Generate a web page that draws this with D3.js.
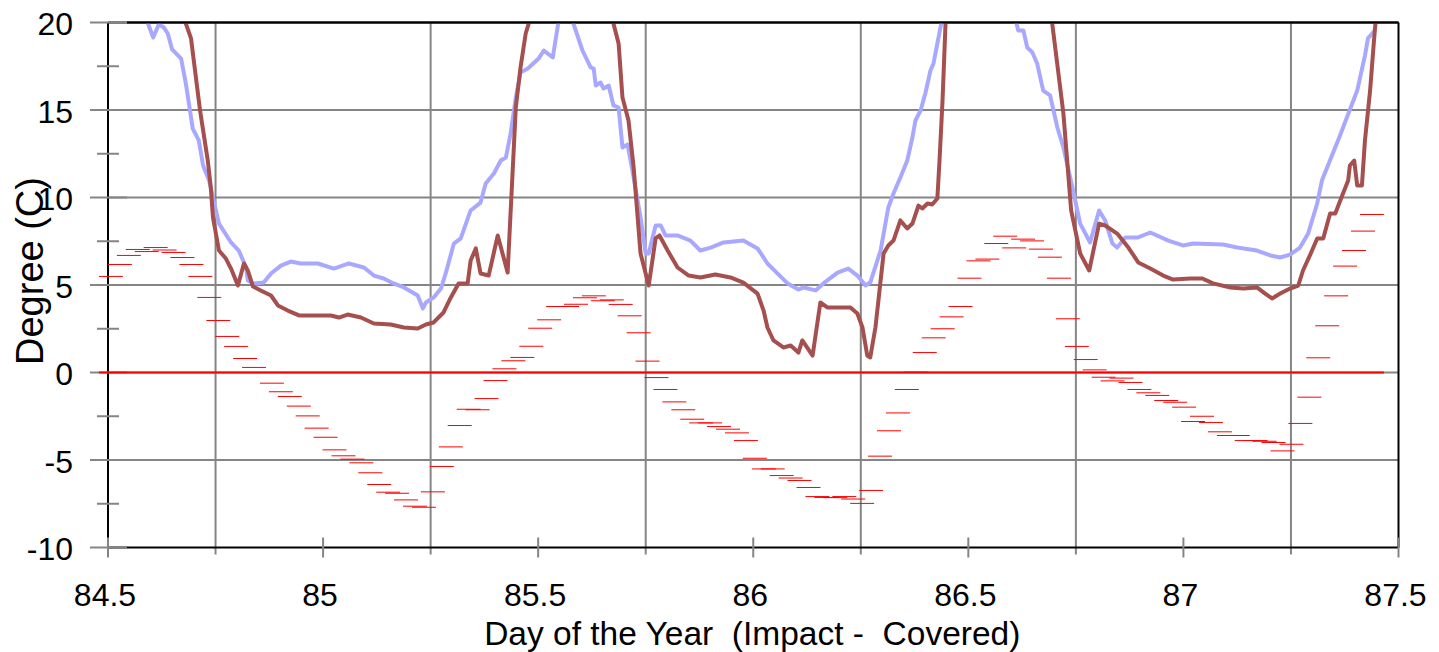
<!DOCTYPE html>
<html><head><meta charset="utf-8">
<script src="https://cdn.jsdelivr.net/npm/d3@7/dist/d3.min.js"></script>
<style>
html,body{margin:0;padding:0;background:#fff;}
svg{display:block;background:#fff;}
text{font-family:"Liberation Sans",Arial,sans-serif;fill:#000;}
</style></head><body>
<svg id="chart" width="1439" height="652"></svg>
<script>
// ---------- data ----------
const xDomain = [84.5, 87.5];
const yDomain = [-10, 20];
const xLabelTicks = [84.5, 85, 85.5, 86, 86.5, 87, 87.5];
const xGridTicks = [84.75, 85.25, 85.75, 86.25, 86.75, 87.25];
const yLabelTicks = [-10, -5, 0, 5, 10, 15, 20];
const yGridTicks = [-5, 0, 5, 10, 15];
const yMinorTicks = [-7.5, -2.5, 2.5, 7.5, 12.5, 17.5];
const xTitle = "Day of the Year  (Impact -  Covered)";
const yTitle = "Degree (C)";

// light blue series [day, degC]
const blueSeries = [
[84.585,20.6],[84.593,19.94],[84.605,19.14],[84.618,19.89],[84.630,19.71],[84.639,19.37],[84.649,18.46],
[84.670,17.94],[84.681,16.51],[84.697,13.94],[84.711,13.26],[84.721,11.83],[84.735,10.97],[84.758,8.51],
[84.786,7.43],[84.804,6.97],[84.821,6.00],[84.825,5.26],[84.839,5.09],[84.862,5.14],[84.879,5.66],
[84.902,6.11],[84.925,6.34],[84.948,6.23],[84.988,6.23],[85.025,5.94],[85.060,6.23],[85.095,6.00],
[85.118,5.54],[85.141,5.37],[85.164,5.09],[85.188,4.86],[85.220,4.40],[85.232,3.66],[85.239,4.00],
[85.257,4.29],[85.274,4.80],[85.285,5.66],[85.304,7.37],[85.320,7.66],[85.343,9.26],[85.366,9.71],
[85.378,10.80],[85.397,11.37],[85.413,12.11],[85.425,12.29],[85.436,13.66],[85.448,15.71],[85.459,17.14],
[85.476,17.37],[85.501,17.94],[85.513,18.40],[85.534,18.00],[85.545,19.71],[85.550,20.40],[85.564,21.6],
[85.578,20.40],[85.582,19.94],[85.603,18.40],[85.622,17.43],[85.629,17.37],[85.634,16.40],[85.645,16.57],
[85.652,16.23],[85.664,16.40],[85.675,15.26],[85.687,15.14],[85.696,12.86],[85.708,13.03],[85.722,11.14],
[85.738,8.86],[85.750,6.80],[85.757,6.80],[85.773,8.40],[85.785,8.40],[85.796,7.83],[85.824,7.83],
[85.854,7.54],[85.877,6.97],[85.901,7.14],[85.931,7.43],[85.977,7.54],[86.010,7.09],[86.033,6.23],
[86.056,5.66],[86.080,5.09],[86.105,4.74],[86.117,4.86],[86.145,4.69],[86.163,5.09],[86.196,5.71],
[86.221,5.94],[86.242,5.54],[86.261,4.97],[86.272,5.14],[86.296,6.97],[86.314,9.43],[86.326,10.23],
[86.342,11.14],[86.358,12.11],[86.370,13.43],[86.377,14.40],[86.389,14.97],[86.400,15.94],[86.412,17.26],
[86.419,17.66],[86.428,18.80],[86.437,19.94],[86.442,20.40],[86.52,24.0],
[86.607,20.40],[86.612,19.94],[86.616,19.54],[86.628,19.54],[86.637,18.57],[86.649,18.29],[86.660,17.66],
[86.674,16.11],[86.690,15.83],[86.707,14.00],[86.721,12.86],[86.742,10.57],[86.760,8.51],[86.783,7.43],
[86.804,9.26],[86.818,8.69],[86.835,7.37],[86.846,7.14],[86.865,7.71],[86.893,7.71],[86.923,8.00],
[86.965,7.54],[86.999,7.26],[87.023,7.37],[87.092,7.31],[87.125,7.14],[87.171,6.97],[87.202,6.69],
[87.225,6.57],[87.248,6.74],[87.271,7.14],[87.290,7.94],[87.311,9.66],[87.322,10.97],[87.364,13.54],
[87.404,16.11],[87.422,18.11],[87.429,19.09],[87.445,19.54]
];

// dark red series [day, degC]
const redSeries = [
[84.679,20.40],[84.681,19.94],[84.693,19.09],[84.714,14.97],[84.732,12.11],[84.739,10.57],[84.744,8.86],
[84.758,6.97],[84.774,6.51],[84.786,5.94],[84.802,4.97],[84.816,6.23],[84.825,5.83],[84.837,4.91],
[84.855,4.69],[84.879,4.40],[84.895,3.83],[84.918,3.54],[84.944,3.26],[84.967,3.26],[85.018,3.26],
[85.037,3.14],[85.057,3.31],[85.088,3.14],[85.118,2.80],[85.157,2.74],[85.188,2.57],[85.220,2.51],
[85.239,2.74],[85.257,2.86],[85.280,3.43],[85.297,4.29],[85.315,5.09],[85.336,5.09],[85.343,6.40],
[85.355,7.09],[85.366,5.66],[85.385,5.54],[85.406,7.83],[85.429,5.71],[85.448,15.14],[85.459,17.43],
[85.471,19.37],[85.478,19.94],[85.483,20.40],[85.58,24.0],
[85.671,20.40],[85.675,19.94],[85.687,18.80],[85.696,15.71],[85.710,14.40],[85.722,11.71],[85.738,6.80],
[85.757,4.97],[85.773,7.66],[85.782,7.83],[85.801,6.97],[85.824,6.00],[85.850,5.54],[85.877,5.43],
[85.912,5.60],[85.947,5.43],[85.977,5.14],[86.010,4.51],[86.024,3.54],[86.033,2.57],[86.047,1.83],
[86.070,1.43],[86.087,1.54],[86.105,1.14],[86.114,1.83],[86.138,0.97],[86.156,4.00],[86.173,3.71],
[86.186,3.71],[86.226,3.71],[86.242,3.37],[86.254,2.57],[86.265,0.97],[86.272,0.86],[86.284,2.57],
[86.291,4.11],[86.303,6.80],[86.314,7.26],[86.326,7.54],[86.342,8.69],[86.358,8.23],[86.370,8.51],
[86.384,9.54],[86.393,9.37],[86.405,9.66],[86.416,9.60],[86.428,9.94],[86.433,12.11],[86.440,15.54],
[86.447,19.94],[86.449,20.40],[86.57,24.0],
[86.693,20.40],[86.695,19.94],[86.721,14.80],[86.739,9.26],[86.760,6.80],[86.781,5.83],[86.804,8.51],
[86.818,8.40],[86.846,7.94],[86.872,7.14],[86.895,6.29],[86.923,5.94],[86.953,5.54],[86.976,5.31],
[87.016,5.37],[87.044,5.37],[87.069,5.09],[87.109,4.86],[87.139,4.80],[87.171,4.86],[87.190,4.51],
[87.206,4.23],[87.225,4.51],[87.248,4.80],[87.267,4.97],[87.278,5.83],[87.294,6.69],[87.311,7.66],
[87.325,7.66],[87.341,9.09],[87.353,9.09],[87.371,10.23],[87.383,10.97],[87.387,11.83],[87.397,12.11],
[87.404,10.69],[87.415,10.69],[87.422,13.26],[87.434,16.11],[87.443,18.97],[87.448,20.40]
];

// half-hourly difference values (short red dashes)
const diffStartDay = 84.479;
const diffStepDay = 0.02079;
const diffSpanDay = 0.0557;
const diffValues = [
5.49,6.17,6.69,7.03,6.91,7.14,7.00,6.86,6.57,6.17,5.49,4.29,2.97,2.06,1.49,0.80,0.29,0.00,-0.61,-1.10,
-1.37,-1.92,-2.48,-3.18,-3.70,-4.42,-4.76,-4.95,-5.16,-5.73,-6.40,-6.84,-6.90,-7.28,-7.64,-7.70,-6.82,-5.37,-4.25,-3.03,
-2.10,-2.13,-1.49,-0.46,0.21,0.67,0.86,1.50,2.53,3.01,3.77,3.77,3.90,4.27,4.38,4.10,4.15,3.89,3.24,2.27,
0.65,-0.29,-0.97,-1.68,-2.13,-2.67,-2.88,-2.88,-3.09,-3.24,-3.45,-3.89,-4.90,-5.51,-5.51,-5.89,-6.03,-6.17,-6.57,-7.09,
-7.14,-7.15,-7.09,-7.23,-7.48,-6.74,-4.78,-3.33,-2.31,-0.97,0.02,1.14,1.98,2.50,3.18,3.77,5.39,6.38,6.48,7.37,
7.79,7.12,7.62,7.52,7.05,6.59,5.39,3.07,1.49,0.74,0.15,-0.27,-0.48,-0.32,-0.57,-0.97,-1.16,-1.31,-1.60,-1.70,
-1.98,-2.80,-2.50,-2.86,-3.39,-3.60,-3.60,-3.89,-3.89,-3.93,-4.00,-4.48,-4.10,-2.91,-1.41,0.84,2.67,4.38,6.08,6.97,
8.08,9.03
];

// ---------- drawing ----------
const svg = d3.select("#chart");
const L = 108, R = 1398.5, T = 22.5, B = 547.5;
const x = d3.scaleLinear().domain(xDomain).range([L, R]);
const y = d3.scaleLinear().domain(yDomain).range([B, T]);
const GRID = "#858585";
const FONT = "'Liberation Sans',Arial,sans-serif";

svg.append("defs").append("clipPath").attr("id","plotclip")
  .append("rect").attr("x",L).attr("y",T).attr("width",R-L).attr("height",B-T);

// vertical gridlines (quarter days), extending slightly below the axis
svg.append("g").attr("transform",`translate(0,${B+7})`)
  .call(d3.axisBottom(x).tickValues(xGridTicks).tickSize(-(B+7-T)).tickFormat("").offset(0))
  .call(g=>g.select(".domain").remove())
  .selectAll("line").attr("stroke",GRID).attr("stroke-width",2);

// horizontal gridlines
svg.append("g").attr("transform",`translate(${L},0)`)
  .call(d3.axisLeft(y).tickValues(yGridTicks).tickSize(-(R-L)).tickFormat("").offset(0))
  .call(g=>g.select(".domain").remove())
  .selectAll("line").attr("stroke",GRID).attr("stroke-width",2);

// plot frame
const frame = svg.append("g").attr("stroke","#000").attr("stroke-width",2).attr("fill","none");
frame.append("line").attr("x1",L).attr("x2",R).attr("y1",T).attr("y2",T);
frame.append("line").attr("x1",R).attr("x2",R).attr("y1",T).attr("y2",B);
frame.append("line").attr("x1",L).attr("x2",R).attr("y1",B).attr("y2",B);
frame.append("line").attr("x1",L).attr("x2",L).attr("y1",T).attr("y2",B);

// y major cross ticks
svg.append("g").attr("transform",`translate(${L+19},0)`)
  .call(d3.axisLeft(y).tickValues(yLabelTicks).tickSize(37).tickFormat("").offset(0))
  .call(g=>g.select(".domain").remove())
  .selectAll("line").attr("stroke",GRID).attr("stroke-width",2);
// y minor cross ticks
svg.append("g").attr("transform",`translate(${L+11},0)`)
  .call(d3.axisLeft(y).tickValues(yMinorTicks).tickSize(22).tickFormat("").offset(0))
  .call(g=>g.select(".domain").remove())
  .selectAll("line").attr("stroke",GRID).attr("stroke-width",2);
// x cross ticks
svg.append("g").attr("transform",`translate(0,${B-10})`)
  .call(d3.axisBottom(x).tickValues(xLabelTicks).tickSize(20).tickFormat("").offset(0))
  .call(g=>g.select(".domain").remove())
  .selectAll("line").attr("stroke",GRID).attr("stroke-width",2);

// difference dashes
const diffData = diffValues.map((v,i)=>({t: diffStartDay + i*diffStepDay, v}));
svg.append("g").selectAll("line").data(diffData).join("line")
  .attr("x1",d=>x(d.t)).attr("x2",d=>x(d.t+diffSpanDay))
  .attr("y1",d=>y(d.v)).attr("y2",d=>y(d.v))
  .attr("stroke","#ff0000").attr("stroke-width",1);

// zero reference line
svg.append("line")
  .attr("x1",x(diffData[0].t)).attr("x2",x(diffData[diffData.length-1].t+diffSpanDay))
  .attr("y1",y(0)).attr("y2",y(0))
  .attr("stroke","#ff0000").attr("stroke-width",2);

// lines
const line = d3.line().x(d=>x(d[0])).y(d=>y(d[1]));
const lg = svg.append("g").attr("clip-path","url(#plotclip)");
lg.append("path").datum(blueSeries).attr("d",line)
  .attr("fill","none").attr("stroke","#a8a8ff").attr("stroke-width",4).attr("stroke-linejoin","round");
lg.append("path").datum(redSeries).attr("d",line)
  .attr("fill","none").attr("stroke","#a5504e").attr("stroke-width",4).attr("stroke-linejoin","round");

// top frame line drawn over lines
svg.append("line").attr("x1",L+19).attr("x2",R).attr("y1",T).attr("y2",T).attr("stroke","#000").attr("stroke-width",2);

// tick labels
const yl = svg.append("g").attr("transform",`translate(${L},0)`)
  .call(d3.axisLeft(y).tickValues(yLabelTicks).tickSize(0).tickPadding(35).tickFormat(d=>String(d)).offset(0));
yl.select(".domain").remove();
yl.selectAll("text").attr("font-size",32).attr("font-family",FONT).attr("dy","0.4em").attr("fill","#000");

const xl = svg.append("g").attr("transform",`translate(0,${B})`)
  .call(d3.axisBottom(x).tickValues(xLabelTicks).tickSize(0).tickPadding(36).tickFormat(d=>String(d)).offset(0));
xl.select(".domain").remove();
xl.selectAll("text").attr("font-size",32).attr("font-family",FONT).attr("dx",-3).attr("fill","#000");

// titles
svg.append("text").attr("x",(L+R)/2 - 1).attr("y",645).attr("text-anchor","middle")
  .attr("font-size",33.5).style("white-space","pre").text(xTitle);
svg.append("text").attr("transform","translate(43,271) rotate(-90)").attr("text-anchor","middle")
  .attr("font-size",38).text(yTitle);
</script>
</body></html>
